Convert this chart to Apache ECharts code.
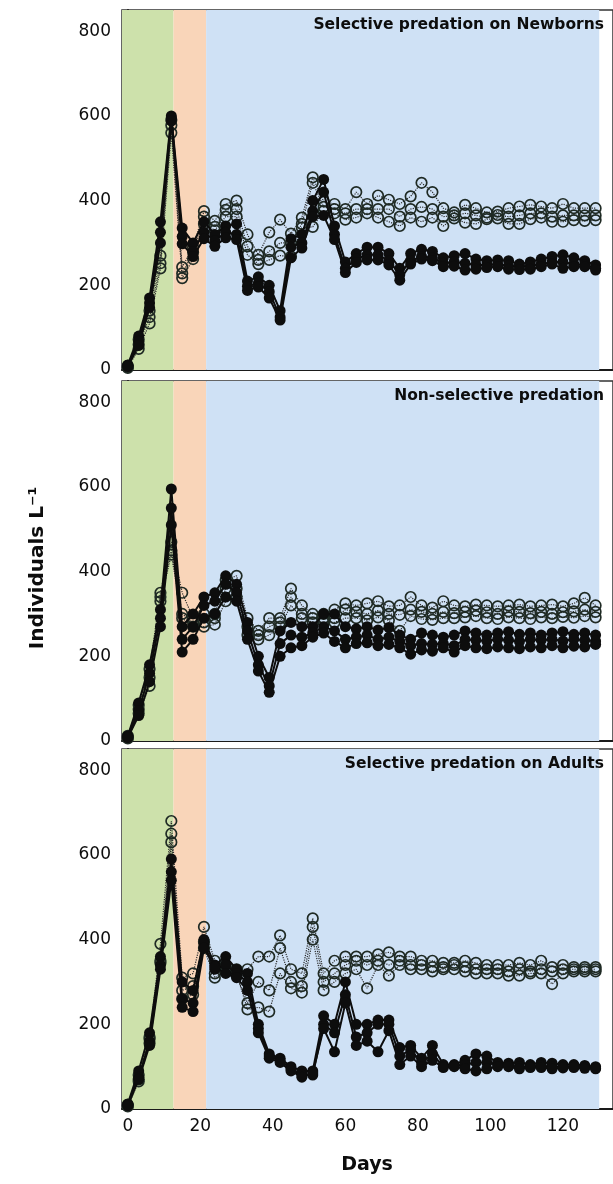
<!DOCTYPE html>
<html><head><meta charset="utf-8">
<script src="https://cdn.jsdelivr.net/npm/echarts@6/dist/echarts.min.js"></script>
<style>html,body{margin:0;padding:0;background:#fff}#c{width:613px;height:1184px}</style>
</head><body><div id="c"></div>
<script>
const days = [0,3,6,9,12,15,18,21,24,27,30,33,36,39,42,45,48,51,54,57,60,63,66,69,72,75,78,81,84,87,90,93,96,99,102,105,108,111,114,117,120,123,126,129];
const xTickValues = [0,20,40,60,80,100,120];
const yTickValues = [0,200,400,600,800];
const panelTitles = ['Selective predation on Newborns','Non-selective predation','Selective predation on Adults'];
const phaseBounds = [-1.6, 12.6, 21.6, 130];

// Panel 1: selective predation on newborns
const nbFilledA = [12,80,170,350,600,335,300,350,320,340,345,210,220,200,140,310,320,400,450,340,255,275,290,290,275,240,275,285,280,265,270,275,262,258,260,258,250,255,262,268,272,265,258,248];
const nbFilledB = [10,68,158,325,595,315,280,325,305,325,320,198,205,185,125,290,300,375,420,320,240,262,272,272,258,225,258,268,265,252,255,252,248,248,250,246,244,246,250,255,255,250,248,240];
const nbFilledC = [8,58,148,300,588,298,268,310,292,312,308,188,196,170,118,265,288,362,365,308,230,254,260,260,248,212,250,262,258,244,245,236,238,242,244,238,237,238,244,250,240,244,244,236];
const nbOpenA = [10,72,140,270,590,243,290,375,352,392,400,320,272,325,355,322,360,455,398,392,380,420,392,412,402,392,410,442,420,382,372,390,382,372,374,382,386,390,386,382,392,382,382,382];
const nbOpenB = [7,60,125,252,578,228,278,362,338,378,380,292,260,280,300,300,345,442,385,380,370,380,380,380,380,362,380,385,380,362,365,370,365,360,366,362,365,370,370,362,365,365,365,365];
const nbOpenC = [5,50,110,240,560,217,262,345,330,362,362,272,250,260,270,268,336,338,375,370,355,360,370,360,350,340,360,350,360,340,358,348,345,356,358,345,345,356,360,350,350,354,352,354];

// Panel 2: non-selective predation
const nsFilledA = [12,90,180,310,595,270,300,340,350,390,370,280,200,150,260,280,270,270,300,300,270,265,270,262,268,250,240,255,250,245,250,260,255,250,255,258,252,255,250,255,258,252,255,250];
const nsFilledB = [10,72,160,290,550,240,270,320,330,370,350,260,180,130,230,250,245,255,270,260,240,245,250,240,245,235,225,230,228,230,225,240,238,236,240,238,235,240,238,240,236,240,238,236];
const nsFilledC = [8,60,140,270,510,210,240,290,300,340,330,240,165,115,200,220,225,245,255,235,220,230,232,225,228,220,205,215,212,220,210,225,220,218,222,220,218,222,220,225,220,224,222,228];
const nsOpenA = [12,85,170,350,470,350,290,300,300,380,390,290,260,290,290,360,320,300,300,310,325,320,325,330,318,320,340,320,315,330,320,318,322,320,318,320,322,318,320,322,318,325,338,320];
const nsOpenB = [9,75,150,340,450,300,280,280,290,360,360,270,250,270,280,340,300,290,290,290,310,305,300,308,300,298,310,305,300,305,302,305,308,304,300,306,305,302,305,300,304,306,310,305];
const nsOpenC = [6,65,130,330,440,290,270,270,275,330,340,250,240,250,270,320,290,280,280,280,290,290,285,292,285,260,295,288,286,290,290,292,295,290,288,292,290,288,292,290,293,291,295,292];

// Panel 3: selective predation on adults
const adFilledA = [12,90,180,360,590,300,280,400,340,360,330,320,200,130,120,100,90,90,220,200,300,200,200,210,210,145,150,120,150,105,105,115,130,125,110,108,110,105,110,108,105,105,103,100];
const adFilledB = [10,75,160,340,560,260,250,390,330,340,320,300,190,125,115,95,80,80,200,180,270,170,180,200,200,125,140,110,130,100,102,105,110,110,105,103,100,100,102,100,100,100,100,97];
const adFilledC = [8,70,150,330,540,240,230,380,335,320,310,280,180,120,110,90,75,85,190,135,250,150,160,135,185,105,125,100,115,98,100,95,90,95,100,100,95,98,98,95,97,98,96,95];
const adOpenA = [10,80,170,390,680,310,320,430,350,340,330,330,360,360,410,330,320,450,320,350,360,360,360,365,370,360,360,350,350,345,345,350,345,340,340,340,345,340,350,335,340,335,335,335];
const adOpenB = [8,70,165,350,650,280,290,395,320,330,315,250,300,280,380,300,290,430,300,320,340,350,340,350,340,350,340,340,335,335,340,335,330,330,330,325,330,325,330,325,330,330,330,330];
const adOpenC = [6,65,155,345,630,260,270,380,310,325,320,235,240,230,320,285,275,400,280,300,320,330,285,340,315,340,330,330,325,330,330,325,320,320,320,315,315,320,320,295,320,325,325,325];

const panels = [
  {filled:[nbFilledA,nbFilledB,nbFilledC], open:[nbOpenA,nbOpenB,nbOpenC]},
  {filled:[nsFilledA,nsFilledB,nsFilledC], open:[nsOpenA,nsOpenB,nsOpenC]},
  {filled:[adFilledA,adFilledB,adFilledC], open:[adOpenA,adOpenB,adOpenC]}
];

const gridTops = [10, 381, 749];
const gridH = 360;
const FONT = 'DejaVu Sans';
const bandColors = ['#cde1ab', '#f9d5b9', '#cfe1f5'];

const grid = [], xAxis = [], yAxis = [], series = [], graphic = [];
panels.forEach((p, i) => {
  grid.push({left:122, right:-2, top:gridTops[i], height:gridH, show:true, borderColor:'#333', borderWidth:1.5, backgroundColor:'#fff', containLabel:false});
  xAxis.push({gridIndex:i, type:'value', min:-1.6, max:133.8,
    axisLine:{show:true, onZero:false, lineStyle:{color:'#1a1a1a', width:2}},
    axisTick:{show:true, inside:true, length:5, customValues:xTickValues, lineStyle:{color:'#1a1a1a', width:1.5}},
    axisLabel:{show:i===2, customValues:xTickValues, fontFamily:FONT, fontSize:17, color:'#0d0d0d', margin:9},
    splitLine:{show:false}});
  yAxis.push({gridIndex:i, type:'value', min:0, max:850,
    axisLine:{show:true, lineStyle:{color:'#1a1a1a', width:2}},
    axisTick:{show:true, inside:true, length:5, customValues:yTickValues, lineStyle:{color:'#1a1a1a', width:1.5}},
    axisLabel:{customValues:yTickValues, fontFamily:FONT, fontSize:17, color:'#0d0d0d', margin:11},
    splitLine:{show:false}});
  series.push({type:'line', xAxisIndex:i, yAxisIndex:i, data:[], silent:true, z:1,
    markArea:{silent:true, data:[
      [{xAxis:phaseBounds[0], itemStyle:{color:bandColors[0]}},{xAxis:phaseBounds[1]}],
      [{xAxis:phaseBounds[1], itemStyle:{color:bandColors[1]}},{xAxis:phaseBounds[2]}],
      [{xAxis:phaseBounds[2], itemStyle:{color:bandColors[2]}},{xAxis:phaseBounds[3]}]
    ]}});
  p.open.forEach(arr => series.push({type:'line', xAxisIndex:i, yAxisIndex:i, z:3,
    data: days.map((d,k)=>[d, arr[k]]), symbol:'circle', symbolSize:10.5, showAllSymbol:true,
    itemStyle:{color:'rgba(0,0,0,0)', borderColor:'#1f2a24', borderWidth:1.7},
    lineStyle:{color:'#2a2a2a', width:1.2, type:'dotted'}}));
  p.filled.forEach(arr => series.push({type:'line', xAxisIndex:i, yAxisIndex:i, z:4,
    data: days.map((d,k)=>[d, arr[k]]), symbol:'circle', symbolSize:11, showAllSymbol:true,
    itemStyle:{color:'#0d0d0d'},
    lineStyle:{color:'#0d0d0d', width:2}}));
  graphic.push({type:'text', right:9, top:gridTops[i]+7, z:10,
    style:{text:panelTitles[i], font:'bold 15.5px "DejaVu Sans"', fill:'#0d0d0d'}});
});
graphic.push({type:'text', x:38, y:568, rotation:Math.PI/2, z:10,
  style:{text:'Individuals L\u207B\u00B9', font:'bold 20px "DejaVu Sans"', fill:'#0d0d0d', align:'center', verticalAlign:'middle'}});
graphic.push({type:'text', x:367, y:1165, z:10,
  style:{text:'Days', font:'bold 19px "DejaVu Sans"', fill:'#0d0d0d', align:'center', verticalAlign:'middle'}});

const chart = echarts.init(document.getElementById('c'), null, {renderer:'canvas'});
chart.setOption({animation:false, backgroundColor:'#fff', grid, xAxis, yAxis, series, graphic});
</script></body></html>
